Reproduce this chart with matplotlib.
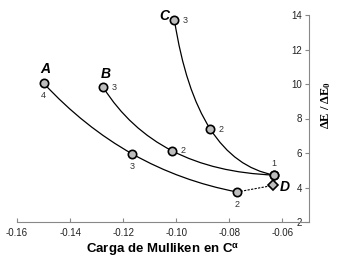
import matplotlib
matplotlib.use("Agg")
import matplotlib.pyplot as plt
from matplotlib.path import Path
from matplotlib.patches import PathPatch
import numpy as np

plt.rcParams['font.family'] = ['Liberation Sans', 'DejaVu Sans']
plt.rcParams['mathtext.fontset'] = 'custom'
plt.rcParams['mathtext.rm'] = 'Liberation Serif'
plt.rcParams['mathtext.bf'] = 'Liberation Serif:bold'
plt.rcParams['mathtext.it'] = 'Liberation Serif:italic'

# Data
A_x = [-0.150, -0.1165, -0.0771]
A_y = [10.05, 5.94, 3.74]
A_lab = ['4', '3', '2']
B_x = [-0.1275, -0.1015, -0.0632]
B_y = [9.80, 6.12, 4.72]
B_lab = ['3', '2', '1']
C_x = [-0.1007, -0.0872, -0.0632]
C_y = [13.71, 7.39, 4.72]
C_lab = ['3', '2', '']
D_x = [-0.0636]
D_y = [4.12]
x_ticks = [-0.16, -0.14, -0.12, -0.10, -0.08, -0.06]
x_ticklabels = ['-0.16', '-0.14', '-0.12', '-0.10', '-0.08', '-0.06']
y_ticks = [2, 4, 6, 8, 10, 12, 14]

fig = plt.figure(figsize=(3.37, 2.60), dpi=100)
ax = fig.add_axes([17/337, 1-222/260, 292/337, 207/260])
ax.set_xlim(-0.16, -0.05)
ax.set_ylim(2, 14)

def curve(xs, ys):
    p0 = np.array([xs[0], ys[0]])
    m = np.array([xs[1], ys[1]])
    p2 = np.array([xs[2], ys[2]])
    p1 = 2*m - (p0 + p2)/2
    path = Path([p0, p1, p2], [Path.MOVETO, Path.CURVE3, Path.CURVE3])
    ax.add_patch(PathPatch(path, fill=False, edgecolor='black', lw=0.9, zorder=2))

curve(A_x, A_y)
curve(B_x, B_y)
curve(C_x, C_y)
ax.plot([A_x[-1], D_x[0]], [A_y[-1], D_y[0]], color='black', lw=0.8,
        linestyle=(0, (2, 1.2)), zorder=2)

mk = dict(marker='o', ms=6, mfc='#bdbdbd', mec='black', mew=1.2, ls='none', zorder=3)
ax.plot(A_x, A_y, **mk)
ax.plot(B_x, B_y, **mk)
ax.plot(C_x, C_y, **mk)
ax.plot(D_x, D_y, marker='D', ms=5, mfc='#bdbdbd', mec='black', mew=1.2, ls='none', zorder=3)

nfs = 6.5
ncol = '#333333'
for x, y, t in zip(A_x, A_y, A_lab):
    ax.annotate(t, (x, y), xytext=(0, -6), textcoords='offset points',
                ha='center', va='top', fontsize=nfs, color=ncol)
for x, y, t in zip(B_x[:2], B_y[:2], B_lab[:2]):
    ax.annotate(t, (x, y), xytext=(6, 0), textcoords='offset points',
                ha='left', va='center', fontsize=nfs, color=ncol)
for x, y, t in zip(C_x[:2], C_y[:2], C_lab[:2]):
    ax.annotate(t, (x, y), xytext=(6, 0), textcoords='offset points',
                ha='left', va='center', fontsize=nfs, color=ncol)
ax.annotate(B_lab[2], (B_x[2], B_y[2]), xytext=(0, 5), textcoords='offset points',
            ha='center', va='bottom', fontsize=nfs, color=ncol)

lfs = 10
ax.annotate('A', (A_x[0], A_y[0]), xytext=(1.5, 5), textcoords='offset points',
            ha='center', va='bottom', fontsize=lfs, fontweight='bold', fontstyle='italic')
ax.annotate('B', (B_x[0], B_y[0]), xytext=(1.5, 5), textcoords='offset points',
            ha='center', va='bottom', fontsize=lfs, fontweight='bold', fontstyle='italic')
ax.annotate('C', (C_x[0], C_y[0]), xytext=(-7, 3), textcoords='offset points',
            ha='center', va='center', fontsize=lfs, fontweight='bold', fontstyle='italic')
ax.annotate('D', (D_x[0], D_y[0]), xytext=(5, -1), textcoords='offset points',
            ha='left', va='center', fontsize=lfs, fontweight='bold', fontstyle='italic')

axcol = '#888888'
ax.spines['top'].set_visible(False)
ax.spines['right'].set_visible(False)
ax.spines['left'].set_position(('data', -0.05))
ax.spines['left'].set_color(axcol)
ax.spines['bottom'].set_color(axcol)
ax.spines['bottom'].set_bounds(-0.16, -0.05)

ax.set_xticks(x_ticks)
ax.set_xticklabels(x_ticklabels)
ax.set_yticks(y_ticks)
ax.tick_params(axis='x', direction='in', length=3, color=axcol, labelsize=7,
               labelcolor='#222222', pad=4)
ax.tick_params(axis='y', direction='out', length=3, color=axcol, labelsize=7,
               labelcolor='#222222', pad=2)

ax.set_xlabel(r'Carga de Mulliken en C$^{\mathregular{\alpha}}$', fontsize=9.5,
              fontweight='bold', labelpad=3)
ax.yaxis.set_label_position('right')
ax.set_ylabel(r'$\mathbf{\Delta E\ /\ \Delta E_0}$', fontsize=9)
ax.yaxis.set_label_coords(1.035, 0.565)

fig.savefig('out.png', dpi=100)
